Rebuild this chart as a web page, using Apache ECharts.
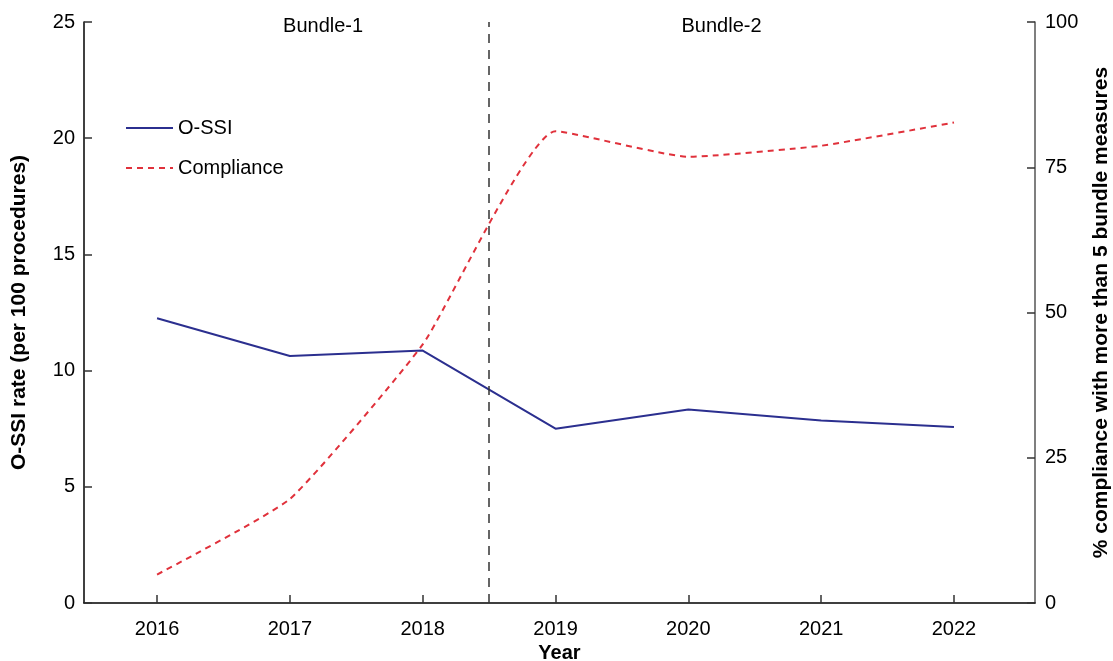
<!DOCTYPE html>
<html>
<head>
<meta charset="utf-8">
<script src="https://cdn.jsdelivr.net/npm/echarts@6/dist/echarts.min.js"></script>
<style>
  html, body { margin: 0; padding: 0; background: #fff; }
  #chart { width: 1113px; height: 661px; }
</style>
</head>
<body>
<div id="chart"></div>
<script>
const years = [2016, 2017, 2018, 2019, 2020, 2021, 2022];
const ossiRate = [12.25, 10.63, 10.86, 7.5, 8.33, 7.85, 7.57];
const compliance = [4.9, 17.9, 44.5, 81.2, 76.8, 78.7, 82.7];
const bundleNames = ['Bundle-1', 'Bundle-2'];
const bundleX = [2017.25, 2020.25];
const bundleY = [24.8, 24.8];
const bundleSplit = 2018.5;

const font = 'Liberation Sans, Arial, sans-serif';

const chart = echarts.init(document.getElementById('chart'));

const option = {
  animation: false,
  textStyle: { fontFamily: font },
  grid: { left: 84, right: 78, top: 22, bottom: 58, containLabel: false, outerBoundsMode: 'none' },
  legend: {
    data: ['O-SSI', 'Compliance'],
    orient: 'vertical',
    left: 120,
    top: 113,
    itemWidth: 47,
    itemHeight: 20,
    itemGap: 20,
    itemStyle: { opacity: 0, borderWidth: 0 },
    textStyle: { fontSize: 20, color: '#000', fontFamily: font }
  },
  xAxis: {
    type: 'value',
    min: 2015.45,
    max: 2022.61,
    name: 'Year',
    nameLocation: 'middle',
    nameGap: 37,
    nameTextStyle: { fontSize: 20, fontWeight: 'bold', color: '#000' },
    splitLine: { show: false },
    axisLine: { lineStyle: { color: '#000', width: 1.5 } },
    axisTick: { inside: true, length: 8, customValues: years, lineStyle: { color: '#333', width: 1.5 } },
    axisLabel: {
      customValues: years,
      formatter: v => String(v),
      fontSize: 20,
      color: '#000',
      margin: 16
    }
  },
  yAxis: [
    {
      type: 'value',
      min: 0,
      max: 25,
      interval: 5,
      position: 'left',
      name: 'O-SSI rate (per 100 procedures)',
      nameLocation: 'middle',
      nameGap: 54,
      nameRotate: 90,
      nameTextStyle: { fontSize: 21, fontWeight: 'bold', color: '#000' },
      splitLine: { show: false },
      axisLine: { show: true, lineStyle: { color: '#000', width: 1.5 } },
      axisTick: { show: true, inside: true, length: 8, lineStyle: { color: '#333', width: 1.5 } },
      axisLabel: { fontSize: 20, color: '#000', margin: 9 }
    },
    {
      type: 'value',
      min: 0,
      max: 100,
      interval: 25,
      position: 'right',
      name: '% compliance with more than 5 bundle measures',
      nameLocation: 'middle',
      nameGap: 56,
      nameRotate: 90,
      nameTextStyle: { fontSize: 21, fontWeight: 'bold', color: '#000' },
      splitLine: { show: false },
      axisLine: { show: true, lineStyle: { color: '#555', width: 1.5 } },
      axisTick: { show: true, inside: true, length: 8, lineStyle: { color: '#333', width: 1.5 } },
      axisLabel: { fontSize: 20, color: '#000', margin: 10 }
    }
  ],
  series: [
    {
      name: 'O-SSI',
      type: 'line',
      yAxisIndex: 0,
      symbol: 'none',
      data: years.map((y, i) => [y, ossiRate[i]]),
      lineStyle: { color: '#2b2f8f', width: 2 },
      itemStyle: { color: '#2b2f8f' },
      markLine: {
        silent: true,
        symbol: 'none',
        label: { show: false },
        lineStyle: { color: '#333', type: [9, 7], width: 1.5 },
        data: [{ xAxis: bundleSplit }]
      }
    },
    {
      name: 'Compliance',
      type: 'line',
      yAxisIndex: 1,
      symbol: 'none',
      smooth: 0.15,
      data: years.map((y, i) => [y, compliance[i]]),
      lineStyle: { color: '#e0313b', width: 2, type: [6, 5] },
      itemStyle: { color: '#e0313b' }
    },
    {
      name: 'bundles',
      type: 'scatter',
      yAxisIndex: 0,
      symbolSize: 0,
      silent: true,
      itemStyle: { opacity: 1 },
      data: bundleNames.map((n, i) => ({ value: [bundleX[i], bundleY[i]], name: n })),
      label: {
        show: true,
        position: 'inside',
        formatter: p => p.name,
        fontSize: 20,
        color: '#000',
        opacity: 1
      }
    }
  ]
};

chart.setOption(option);
</script>
</body>
</html>
